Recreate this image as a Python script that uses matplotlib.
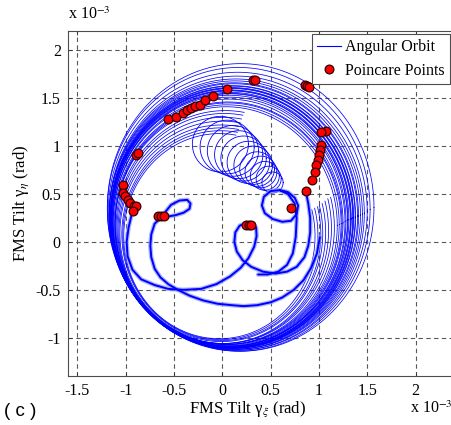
import numpy as np
import matplotlib
matplotlib.use("Agg")
import matplotlib.pyplot as plt
from matplotlib.lines import Line2D

plt.rcParams["mathtext.fontset"] = "stix"

# ---------------- data (units of 1e-3 rad) ----------------
# Ring bundle of the angular orbit: centre x/y, semi-axes x/y
ring_cx = [0.19, 0.17, 0.16, 0.15, 0.14, 0.13, 0.12, 0.12, 0.11, 0.11, 0.10, 0.10, 0.10, 0.09, 0.09,
           0.09, 0.08, 0.08, 0.08, 0.07, 0.07, 0.06, 0.06, 0.06, 0.05, 0.04, 0.03, 0.02, 0.01, 0.00,
           -0.01, -0.01, -0.02, -0.03]
ring_cy = [0.36, 0.34, 0.32, 0.30, 0.29, 0.28, 0.27, 0.27, 0.26, 0.26, 0.25, 0.25, 0.25, 0.24, 0.24,
           0.24, 0.23, 0.23, 0.23, 0.22, 0.21, 0.20, 0.19, 0.19, 0.18, 0.17, 0.15, 0.14, 0.12, 0.10,
           0.09, 0.08, 0.07, 0.06]
ring_rx = [1.38, 1.36, 1.34, 1.32, 1.31, 1.30, 1.29, 1.28, 1.27, 1.265, 1.26, 1.255, 1.25, 1.245,
           1.24, 1.235, 1.23, 1.22, 1.215, 1.21, 1.20, 1.19, 1.18, 1.17, 1.16, 1.15, 1.13, 1.11, 1.09,
           1.07, 1.05, 1.03, 1.01, 0.99]
ring_ry = [1.50, 1.48, 1.45, 1.43, 1.41, 1.40, 1.39, 1.38, 1.37, 1.365, 1.36, 1.355, 1.35, 1.345,
           1.34, 1.335, 1.33, 1.32, 1.315, 1.31, 1.30, 1.29, 1.27, 1.26, 1.25, 1.24, 1.22, 1.20, 1.18,
           1.16, 1.13, 1.11, 1.09, 1.07]
# angular coverage of each ring in degrees (inner rings leave the loop region open)
ring_a0 = [0] * 26 + [80] * 8
ring_a1 = [360] * 26 + [375] * 8

# Chain of small loops (centre x, centre y, radius)
loop_cx = [-0.02, 0.05, 0.11, 0.17, 0.22, 0.27, 0.32, 0.36, 0.40, 0.44, 0.48, 0.52]
loop_cy = [1.02, 0.99, 0.95, 0.91, 0.87, 0.83, 0.80, 0.76, 0.73, 0.69, 0.66, 0.62]
loop_r = [0.29, 0.28, 0.265, 0.25, 0.235, 0.22, 0.20, 0.18, 0.165, 0.15, 0.13, 0.11]

# Thick (repeated) orbit branches
ta_x = [-0.66, -0.60, -0.53, -0.443, -0.363, -0.329, -0.34, -0.40, -0.48, -0.56, -0.64, -0.70, -0.735,
        -0.745, -0.735, -0.70, -0.64, -0.56, -0.46, -0.34, -0.20, -0.05, 0.10, 0.22, 0.36, 0.50, 0.62,
        0.74, 0.84, 0.92, 0.98, 1.01]
ta_y = [0.27, 0.30, 0.387, 0.432, 0.439, 0.40, 0.345, 0.305, 0.28, 0.265, 0.25, 0.19, 0.08, -0.04,
        -0.16, -0.28, -0.37, -0.44, -0.50, -0.56, -0.61, -0.645, -0.66, -0.67, -0.66, -0.63, -0.58,
        -0.50, -0.40, -0.27, -0.12, 0.05]

tb_x = [-0.93, -0.97, -0.99, -0.98, -0.93, -0.84, -0.70, -0.56, -0.40, -0.22, -0.06, 0.08, 0.19, 0.27,
        0.33, 0.355, 0.35, 0.31, 0.25, 0.18, 0.135, 0.125, 0.15, 0.21, 0.30, 0.42, 0.55, 0.67, 0.77,
        0.85, 0.89, 0.91, 0.91, 0.89, 0.865]
tb_y = [0.32, 0.15, 0.00, -0.15, -0.29, -0.39, -0.45, -0.49, -0.50, -0.49, -0.44, -0.36, -0.27, -0.17,
        -0.05, 0.06, 0.15, 0.19, 0.20, 0.17, 0.10, 0.00, -0.10, -0.19, -0.26, -0.31, -0.33, -0.31, -0.26,
        -0.16, -0.04, 0.10, 0.25, 0.40, 0.526]

tc_x = [0.60, 0.68, 0.75, 0.785, 0.77, 0.71, 0.62, 0.52, 0.44, 0.41, 0.43, 0.50, 0.59, 0.68, 0.75,
        0.77, 0.76, 0.73, 0.67, 0.58, 0.47, 0.37]
tc_y = [0.54, 0.52, 0.46, 0.38, 0.29, 0.22, 0.21, 0.24, 0.30, 0.38, 0.47, 0.53, 0.54, 0.50, 0.40,
        0.25, 0.05, -0.12, -0.24, -0.31, -0.34, -0.34]

# Poincare points
pp_x = [-0.564, -0.484, -0.408, -0.367, -0.322, -0.280, -0.235, -0.176, -0.097, 0.052, 0.318, 0.336,
        0.855, 0.875, 0.896, 1.069, 1.021, 1.017, 1.010, 1.000, 0.986, 0.969, 0.958, 0.924, 0.865,
        0.716, 0.249, 0.273, 0.301, -0.668, -0.633, -0.606, -0.893, -0.875, -1.031, -1.031, -1.007,
        -0.979, -0.952, -0.917, -0.893, -0.927]
pp_y = [1.287, 1.298, 1.349, 1.374, 1.401, 1.415, 1.429, 1.477, 1.522, 1.592, 1.685, 1.685, 1.637,
        1.627, 1.616, 1.159, 1.142, 1.010, 0.958, 0.907, 0.855, 0.803, 0.734, 0.647, 0.526, 0.353,
        0.173, 0.173, 0.173, 0.273, 0.273, 0.273, 0.907, 0.924, 0.595, 0.509, 0.474, 0.439, 0.405,
        0.370, 0.370, 0.318]

xticks = [-1.5, -1, -0.5, 0, 0.5, 1, 1.5, 2]
yticks = [-1, -0.5, 0, 0.5, 1, 1.5, 2]
xtick_labels = ["-1.5", "-1", "-0.5", "0", "0.5", "1", "1.5", "2"]
ytick_labels = ["-1", "-0.5", "0", "0.5", "1", "1.5", "2"]

# ---------------- figure ----------------
BLUE = (0.0, 0.0, 1.0)
HALO = (0.55, 0.6, 1.0)
serif = ["Liberation Serif", "DejaVu Serif"]

fig = plt.figure(figsize=(4.52, 4.25), dpi=100)
ax = fig.add_axes([0.1498, 0.115, 0.855, 0.812])
ax.set_xlim(-1.6, 2.4)
ax.set_ylim(-1.4, 2.2)

for cx, cy, rx, ry, a0, a1 in zip(ring_cx, ring_cy, ring_rx, ring_ry, ring_a0, ring_a1):
    t = np.deg2rad(np.linspace(a0, a1, 500))
    ax.plot(cx + rx * np.cos(t), cy + ry * np.sin(t), color=BLUE, lw=0.55, zorder=2)

tt = np.linspace(0, 2 * np.pi, 300)
for cx, cy, r in zip(loop_cx, loop_cy, loop_r):
    ax.plot(cx + r * np.cos(tt), cy + r * np.sin(tt), color=BLUE, lw=0.6, zorder=2)

for xs, ys in [(ta_x, ta_y), (tb_x, tb_y), (tc_x, tc_y)]:
    ax.plot(xs, ys, color=HALO, lw=3.2, alpha=0.7, solid_capstyle="round",
            solid_joinstyle="round", zorder=2)
    ax.plot(xs, ys, color=BLUE, lw=1.4, solid_capstyle="round", solid_joinstyle="round", zorder=3)

ax.plot(pp_x, pp_y, "o", ls="none", ms=6.3, mfc=(1, 0, 0), mec=(0.2, 0, 0), mew=0.9, zorder=5)

# grid / axes styling
ax.set_xticks(xticks)
ax.set_yticks(yticks)
ax.set_xticklabels(xtick_labels, family=serif, fontsize=11.5)
ax.set_yticklabels(ytick_labels, family=serif, fontsize=11.5)
ax.tick_params(direction="in", length=3, width=0.6, pad=5, top=True, right=True, colors="0.2",
               labelcolor="black")
ax.grid(True, color="0.35", ls=(0, (4, 3)), lw=0.8, zorder=1)
ax.set_axisbelow(True)
for s in ax.spines.values():
    s.set_color("0.3")
    s.set_linewidth(0.8)

ax.set_xlabel("FMS Tilt γ$_{\\xi}$ (rad)", family=serif, fontsize=12)
ax.xaxis.set_label_coords(0.466, -0.066)
ax.set_ylabel("FMS Tilt γ$_{\\eta}$ (rad)", family=serif, fontsize=12, labelpad=3)

fig.text(0.150, 0.945, r"x 10$^{-3}$", family=serif, fontsize=11.5, ha="left", va="bottom")
fig.text(0.908, 0.018, r"x 10$^{-3}$", family=serif, fontsize=11.5, ha="left", va="bottom")
fig.text(0.008, 0.012, "( c )", family=["Liberation Sans", "DejaVu Sans"], fontsize=13.5,
         ha="left", va="bottom")

handles = [Line2D([], [], color=BLUE, lw=0.8),
           Line2D([], [], marker="o", ls="none", ms=6.3, mfc=(1, 0, 0), mec=(0.2, 0, 0), mew=0.9)]
leg = ax.legend(handles, ["Angular Orbit", "Poincare Points"], loc="upper right",
                bbox_to_anchor=(0.990, 0.992), prop={"family": serif, "size": 11.5},
                fancybox=False, framealpha=1, edgecolor="0.3", handlelength=1.5,
                handletextpad=0.25, borderpad=0.35, labelspacing=0.45, borderaxespad=0.0)
leg.get_frame().set_linewidth(0.8)

fig.savefig("out.png", dpi=100)
